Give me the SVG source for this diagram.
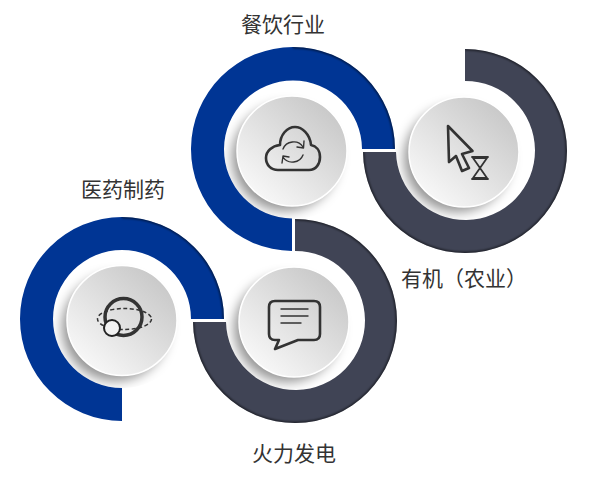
<svg xmlns="http://www.w3.org/2000/svg" width="600" height="480" viewBox="0 0 600 480">
<style>
.blue{fill:#003594}
.dark{fill:#404455}
.edge{fill:none;stroke:#000;stroke-width:2.4;stroke-opacity:.6;filter:url(#soft)}
.disc{fill:url(#face);stroke:#fff;stroke-width:1.5}
.shadow{fill:#000;fill-opacity:.42;filter:url(#blur)}
.icon{fill:none;stroke:#333;stroke-width:2.6;stroke-linejoin:round;stroke-linecap:round}
.thin{stroke-width:1.4}
.label{font-family:"Liberation Sans","Noto Sans CJK SC",sans-serif;font-size:21px;fill:#333;text-anchor:middle}
</style>
<defs>
<linearGradient id="face" x1="0.15" y1="0.9" x2="0.85" y2="0.1">
<stop offset="0" stop-color="#f8f8f8"/><stop offset="1" stop-color="#c8c8c8"/>
</linearGradient>
<filter id="soft" x="-10%" y="-10%" width="120%" height="120%"><feGaussianBlur stdDeviation="0.9"/></filter>
<filter id="blur" x="-30%" y="-30%" width="160%" height="160%"><feGaussianBlur stdDeviation="6"/></filter>
<clipPath id="c1"><circle cx="293" cy="150" r="69"/></clipPath>
<clipPath id="c2"><circle cx="465" cy="151" r="69.5"/></clipPath>
<clipPath id="c3"><circle cx="122" cy="319" r="69"/></clipPath>
<clipPath id="c4"><circle cx="295" cy="321" r="69.5"/></clipPath>
<clipPath id="r1"><path d="M395 149A102 102 0 1 0 292 251V218.500A69 69 0 1 1 362 149Z"/></clipPath>
<clipPath id="r2"><path d="M465 49A102 102 0 1 1 363 152H396A69.500 69.500 0 1 0 465 81Z"/></clipPath>
<clipPath id="r3"><path d="M224 319A102 102 0 1 0 122 421V388A69 69 0 1 1 191 319Z"/></clipPath>
<clipPath id="r4"><path d="M295 219A102 102 0 1 1 193 322H226A69.500 69.500 0 1 0 295 251Z"/></clipPath>
</defs>
<rect width="600" height="480" fill="#fff"/>
<g id="connectors">
<path class="blue" d="M395 149A102 102 0 1 0 292 251V218.500A69 69 0 1 1 362 149Z"/>
<g clip-path="url(#r1)"><path class="edge" d="M395 149A102 102 0 0 0 293 47"/></g>
<path class="dark" d="M465 49A102 102 0 1 1 363 152H396A69.500 69.500 0 1 0 465 81Z"/>
<g clip-path="url(#r2)"><path class="edge" d="M465 49A102 102 0 1 1 363 152"/></g>
<path class="blue" d="M224 319A102 102 0 1 0 122 421V388A69 69 0 1 1 191 319Z"/>
<g clip-path="url(#r3)"><path class="edge" d="M224 319A102 102 0 0 0 122 217"/></g>
<path class="dark" d="M295 219A102 102 0 1 1 193 322H226A69.500 69.500 0 1 0 295 251Z"/>
<g clip-path="url(#r4)"><path class="edge" d="M295 219A102 102 0 1 1 193 322"/></g>
</g>
<g id="node-catering">
<g clip-path="url(#c1)"><circle class="shadow" cx="285" cy="158" r="53"/></g>
<circle class="disc" cx="292" cy="151" r="55"/>
<path class="icon" d="M278 170H309C316 170 320 164 320 157C320 150 316 146 311 145C310 134 302 127 295 127C287 127 280 135 280 145C272 146 266 151 266 158C266 165 271 170 278 170Z"/>
<path class="icon thin" d="M283 149C286 141 298 139 303 147M304 141L303.500 148L297 147M303 155C300 163 288 165 283 157M282 163L283 156L289 157"/>
<text class="label" x="283" y="32">餐饮行业</text>
</g>
<g id="node-agriculture">
<g clip-path="url(#c2)"><circle class="shadow" cx="457" cy="159" r="53"/></g>
<circle class="disc" cx="464" cy="152" r="55"/>
<path class="icon" d="M448 126L472.500 151L462 154L469 168L462 171L456 156L449 162Z"/>
<path class="icon thin" d="M472 157H488M473 158H487L480 168L487 178H473L480 168ZM472 179H488" style="stroke-width:1.8"/>
<text class="label" x="464" y="286">有机（农业）</text>
</g>
<g id="node-pharma">
<g clip-path="url(#c3)"><circle class="shadow" cx="115" cy="328" r="53"/></g>
<circle class="disc" cx="122" cy="320.500" r="55"/>
<ellipse cx="124.500" cy="319" rx="27" ry="10.500" fill="none" stroke="#333" stroke-width="1.500" stroke-dasharray="4 2.500"/>
<circle cx="123.500" cy="317" r="18.500" fill="none" stroke="#333" stroke-width="3.500"/>
<circle cx="112" cy="328" r="8" fill="#f2f2f2" stroke="#222" stroke-width="2"/>
<text class="label" x="123" y="197">医药制药</text>
</g>
<g id="node-power">
<g clip-path="url(#c4)"><circle class="shadow" cx="287" cy="329" r="53"/></g>
<circle class="disc" cx="294" cy="322" r="55"/>
<path class="icon" d="M275 301H314C318 301 320 303 320 307V334C320 338 318 340 314 340H298L275 349L279 340H275C271 340 269 338 269 334V307C269 303 271 301 275 301Z"/>
<path class="icon thin" d="M281 309H308M281 316H308M281 323H301"/>
<text class="label" x="294" y="461">火力发电</text>
</g>
</svg>
